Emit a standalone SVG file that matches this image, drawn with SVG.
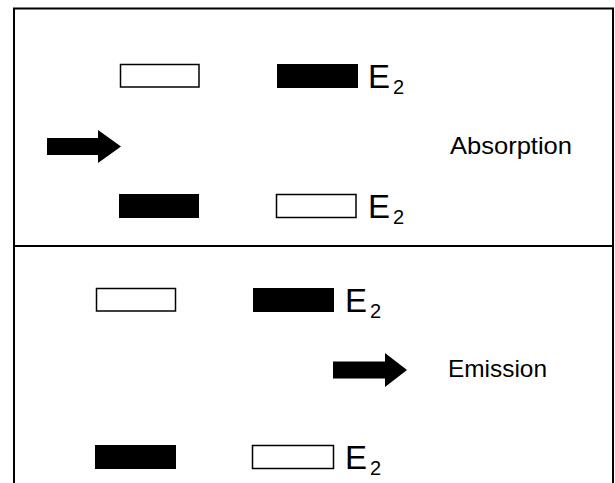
<svg xmlns="http://www.w3.org/2000/svg" width="615" height="483" viewBox="0 0 615 483">
<style>
.frame{fill:none;stroke:#000;stroke-width:2}
.empty{fill:#fff;stroke:#000;stroke-width:1.5}
.full{fill:#000}
.lbl{font-family:"Liberation Sans",Arial,sans-serif;fill:#000}
.e{font-size:33px}
.sub{font-size:20px}
.word{font-size:24px}
</style>
<rect width="615" height="483" fill="#fff"/>
<g id="frame">
<path class="frame" d="M14,490 V8.5 H613 V490"/>
<line class="frame" x1="14" y1="246" x2="613" y2="246"/>
</g>
<g id="absorption">
<rect class="empty" x="120.5" y="64.5" width="78.5" height="22.5"/>
<rect class="full" x="277" y="64" width="81" height="24"/>
<text class="lbl e" x="368" y="88">E<tspan class="sub" dx="3" dy="6">2</tspan></text>
<rect class="full" x="119" y="194" width="80" height="24"/>
<rect class="empty" x="276.5" y="194.5" width="79.5" height="23"/>
<text class="lbl e" x="368" y="218">E<tspan class="sub" dx="3" dy="6">2</tspan></text>
<text class="lbl word" x="450" y="154" textLength="122" lengthAdjust="spacingAndGlyphs">Absorption</text>
</g>
<g id="emission">
<rect class="empty" x="96.5" y="288.5" width="79" height="22.5"/>
<rect class="full" x="253" y="288" width="81" height="24"/>
<text class="lbl e" x="345" y="312">E<tspan class="sub" dx="3" dy="6">2</tspan></text>
<rect class="full" x="95" y="445" width="81" height="24"/>
<rect class="empty" x="252.5" y="445.5" width="81" height="23"/>
<text class="lbl e" x="345" y="469">E<tspan class="sub" dx="3" dy="6">2</tspan></text>
<text class="lbl word" x="448" y="377" textLength="99" lengthAdjust="spacingAndGlyphs">Emission</text>
</g>
<g id="connectors">
<path id="arrow-absorption" class="full" d="M47,138 H98 V130 L121,146.5 L98,163 V155 H47 Z"/>
<path id="arrow-emission" class="full" d="M333,361.5 H385 V353 L407,370 L385,387 V378.5 H333 Z"/>
</g>
</svg>
